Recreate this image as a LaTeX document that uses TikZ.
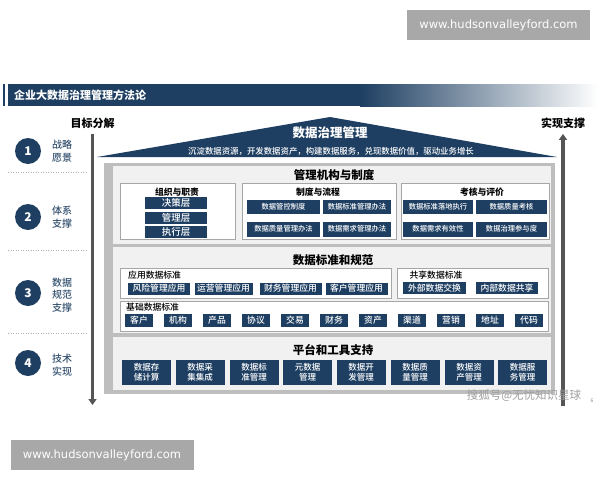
\documentclass[tikz,border=0pt]{standalone}
\usepackage{fontspec}
\setmainfont{Noto Sans CJK SC}
\newfontfamily\medfont{Noto Sans CJK SC Medium}
\newfontfamily\urlfont{DejaVu Sans}
\usetikzlibrary{arrows.meta}

\definecolor{navy}{HTML}{1E3F62}
\definecolor{stepblue}{HTML}{33506E}
\definecolor{framegray}{HTML}{BEBEBE}
\definecolor{panelbg}{HTML}{F1F1F1}
\definecolor{boxline}{HTML}{A6A6A6}
\definecolor{markgray}{HTML}{A8A8A8}
\definecolor{arrowgray}{HTML}{555555}

\begin{document}
\begin{tikzpicture}[x=1pt,y=-1pt,
  markbox/.style={fill=markgray,text=white,minimum width=183,minimum height=30,inner sep=0pt,font=\urlfont\fontsize{11.5}{12}\selectfont},
  num/.style={circle,fill=navy,text=white,minimum size=26,inner sep=0pt,font=\bfseries\fontsize{12}{12}\selectfont},
  steplabel/.style={anchor=west,text=stepblue,align=left,inner sep=0pt,font=\medfont\fontsize{10}{12.5}\selectfont},
  sidelabel/.style={font=\bfseries\fontsize{11}{12}\selectfont},
  sidearrow/.style={arrowgray,line width=3.5pt,-{Triangle[length=6pt,width=8pt]}},
  sep/.style={gray!60,line width=0.5pt,dash pattern=on 1pt off 1.5pt},
  paneltitle/.style={font=\bfseries\fontsize{11.5}{12}\selectfont},
  subbox/.style={fill=white,draw=boxline,line width=0.6pt},
  subtitle/.style={inner sep=0pt,font=\bfseries\fontsize{8.8}{9}\selectfont},
  grouplabel/.style={inner sep=0pt,font=\medfont\fontsize{8.8}{9}\selectfont},
  item/.style={fill=navy,text=white,inner sep=0pt,font=\medfont\fontsize{8.8}{9}\selectfont},
  tool/.style={item,minimum width=49,minimum height=25,align=center,font=\medfont\fontsize{8.5}{10.5}\selectfont}]

\useasboundingbox (0,0) rectangle (600,480);

% watermarks
\path (498.5,25) node[markbox] (mark1) {www.hudsonvalleyford.com};
\path (102,455) node[markbox] (mark2) {www.hudsonvalleyford.com};

% title bar
\fill[navy] (3,84) rectangle (5,106);
\fill[navy] (8,84) rectangle (360,106);
\shade[left color=navy,right color=white] (360,84) rectangle (598,106);
\path (14,95) node[anchor=west,inner sep=0pt,text=white,font=\bfseries\fontsize{11}{12}\selectfont] (title) {企业大数据治理管理方法论};

% side arrows
\path (92.5,123) node[sidelabel] (down) {目标分解};
\path (563,123) node[sidelabel] (up) {实现支撑};
\coordinate (downend) at (92.5,405);
\coordinate (upstart) at (563,406);
\draw[sidearrow,shorten <=2pt] (down.south) -- (downend);
\draw[sidearrow,shorten >=2pt] (upstart) -- (up.south);

% steps
\path (28,151) node[num] (n1) {1};
\path (28,217) node[num] (n2) {2};
\path (28,293) node[num] (n3) {3};
\path (28,363) node[num] (n4) {4};
\path (52,151) node[steplabel] (l1) {战略\\愿景};
\path (52,217) node[steplabel] (l2) {体系\\支撑};
\path (52,295) node[steplabel] (l3) {数据\\规范\\支撑};
\path (52,365) node[steplabel] (l4) {技术\\实现};
\draw[sep] (8,172) -- (88,172);
\draw[sep] (8,250) -- (88,250);
\draw[sep] (8,333) -- (88,333);

% roof
\fill[navy] (97,157) -- (330,117) -- (557,157) -- cycle;
\path (330,133) node[text=white,font=\bfseries\fontsize{12.5}{13}\selectfont] (roof) {数据治理管理};
\path (331,151) node[text=white,inner sep=0pt,font=\medfont\fontsize{8.4}{9}\selectfont] (roofsub) {沉淀数据资源，开发数据资产，构建数据服务，兑现数据价值，驱动业务增长};

% frame and panels
\fill[framegray] (104,163) rectangle (555,394);
\fill[panelbg] (113,166) rectangle (551,244);
\fill[panelbg] (113,247) rectangle (551,333);
\fill[panelbg] (113,337) rectangle (551,390);

% management
\path (334,175) node[paneltitle] (p1) {管理机构与制度};
\draw[subbox] (120,183) rectangle (235,239);
\draw[subbox] (242,183) rectangle (396,239);
\draw[subbox] (401,183) rectangle (549,239);
\path (177,192) node[subtitle] (s1) {组织与职责};
\path (318,192) node[subtitle] (s2) {制度与流程};
\path (482,192) node[subtitle] (s3) {考核与评价};

\path (176,203) node[item,minimum width=62,minimum height=12,font=\medfont\fontsize{9.5}{10}\selectfont] (o1) {决策层};
\path (176,217.5) node[item,minimum width=62,minimum height=12,font=\medfont\fontsize{9.5}{10}\selectfont] (o2) {管理层};
\path (176,231.5) node[item,minimum width=62,minimum height=12,font=\medfont\fontsize{9.5}{10}\selectfont] (o3) {执行层};

\path (283.5,207) node[item,minimum width=73,minimum height=14,font=\medfont\fontsize{7.3}{8}\selectfont] (r1) {数据管控制度};
\path (357,207) node[item,minimum width=68,minimum height=14,font=\medfont\fontsize{7.3}{8}\selectfont] (r2) {数据标准管理办法};
\path (283.5,229) node[item,minimum width=73,minimum height=15,font=\medfont\fontsize{7.3}{8}\selectfont] (r3) {数据质量管理办法};
\path (357,229) node[item,minimum width=68,minimum height=15,font=\medfont\fontsize{7.3}{8}\selectfont] (r4) {数据需求管理办法};

\path (438,207) node[item,minimum width=70,minimum height=14,font=\medfont\fontsize{7.3}{8}\selectfont] (e1) {数据标准落地执行};
\path (511.5,207) node[item,minimum width=71,minimum height=14,font=\medfont\fontsize{7.3}{8}\selectfont] (e2) {数据质量考核};
\path (438,229) node[item,minimum width=70,minimum height=15,font=\medfont\fontsize{7.3}{8}\selectfont] (e3) {数据需求有效性};
\path (511.5,229) node[item,minimum width=71,minimum height=15,font=\medfont\fontsize{7.3}{8}\selectfont] (e4) {数据治理参与度};

% standards
\path (333,260) node[paneltitle] (p2) {数据标准和规范};
\draw[subbox] (120,268) rectangle (391,298);
\draw[subbox] (397,268) rectangle (548,298);
\draw[subbox] (120,301) rectangle (548,331);
\path (128,275) node[anchor=west,grouplabel] (g1) {应用数据标准};
\path (436,275) node[grouplabel] (g2) {共享数据标准};
\path (126,307) node[anchor=west,grouplabel] (g3) {基础数据标准};

\path (159,288.5) node[item,minimum width=62,minimum height=12] (a1) {风险管理应用};
\path (223.5,288.5) node[item,minimum width=58,minimum height=12] (a2) {运营管理应用};
\path (290.5,288.5) node[item,minimum width=62,minimum height=12] (a3) {财务管理应用};
\path (356.5,288.5) node[item,minimum width=62,minimum height=12] (a4) {客户管理应用};
\path (434.5,288) node[item,minimum width=63,minimum height=12] (h1) {外部数据交换};
\path (507,288) node[item,minimum width=62,minimum height=12] (h2) {内部数据共享};

\path (139,320.5) node[item,minimum width=28,minimum height=13] (b1) {客户};
\path (178,320.5) node[item,minimum width=28,minimum height=13] (b2) {机构};
\path (217,320.5) node[item,minimum width=28,minimum height=13] (b3) {产品};
\path (256,320.5) node[item,minimum width=28,minimum height=13] (b4) {协议};
\path (295,320.5) node[item,minimum width=28,minimum height=13] (b5) {交易};
\path (334,320.5) node[item,minimum width=28,minimum height=13] (b6) {财务};
\path (373,320.5) node[item,minimum width=28,minimum height=13] (b7) {资产};
\path (412,320.5) node[item,minimum width=28,minimum height=13] (b8) {渠道};
\path (451,320.5) node[item,minimum width=28,minimum height=13] (b9) {营销};
\path (490,320.5) node[item,minimum width=28,minimum height=13] (b10) {地址};
\path (529,320.5) node[item,minimum width=28,minimum height=13] (b11) {代码};

% platform
\path (333,350) node[paneltitle] (p3) {平台和工具支持};
\path (146.5,372.5) node[tool] (t1) {数据存\\储计算};
\path (200,372.5) node[tool] (t2) {数据采\\集集成};
\path (254,372.5) node[tool] (t3) {数据标\\准管理};
\path (307.5,372.5) node[tool] (t4) {元数据\\管理};
\path (361,372.5) node[tool] (t5) {数据开\\发管理};
\path (415,372.5) node[tool] (t6) {数据质\\量管理};
\path (469,372.5) node[tool] (t7) {数据资\\产管理};
\path (522.5,372.5) node[tool] (t8) {数据服\\务管理};

% footer
\path (524,396) node[text=gray!75,font=\fontsize{11.5}{12}\selectfont] (sohu) {搜狐号@无忧知识星球};
\path (592,401) node[text=gray,font=\fontsize{5}{5}\selectfont] (page) {6};
\end{tikzpicture}
\end{document}
